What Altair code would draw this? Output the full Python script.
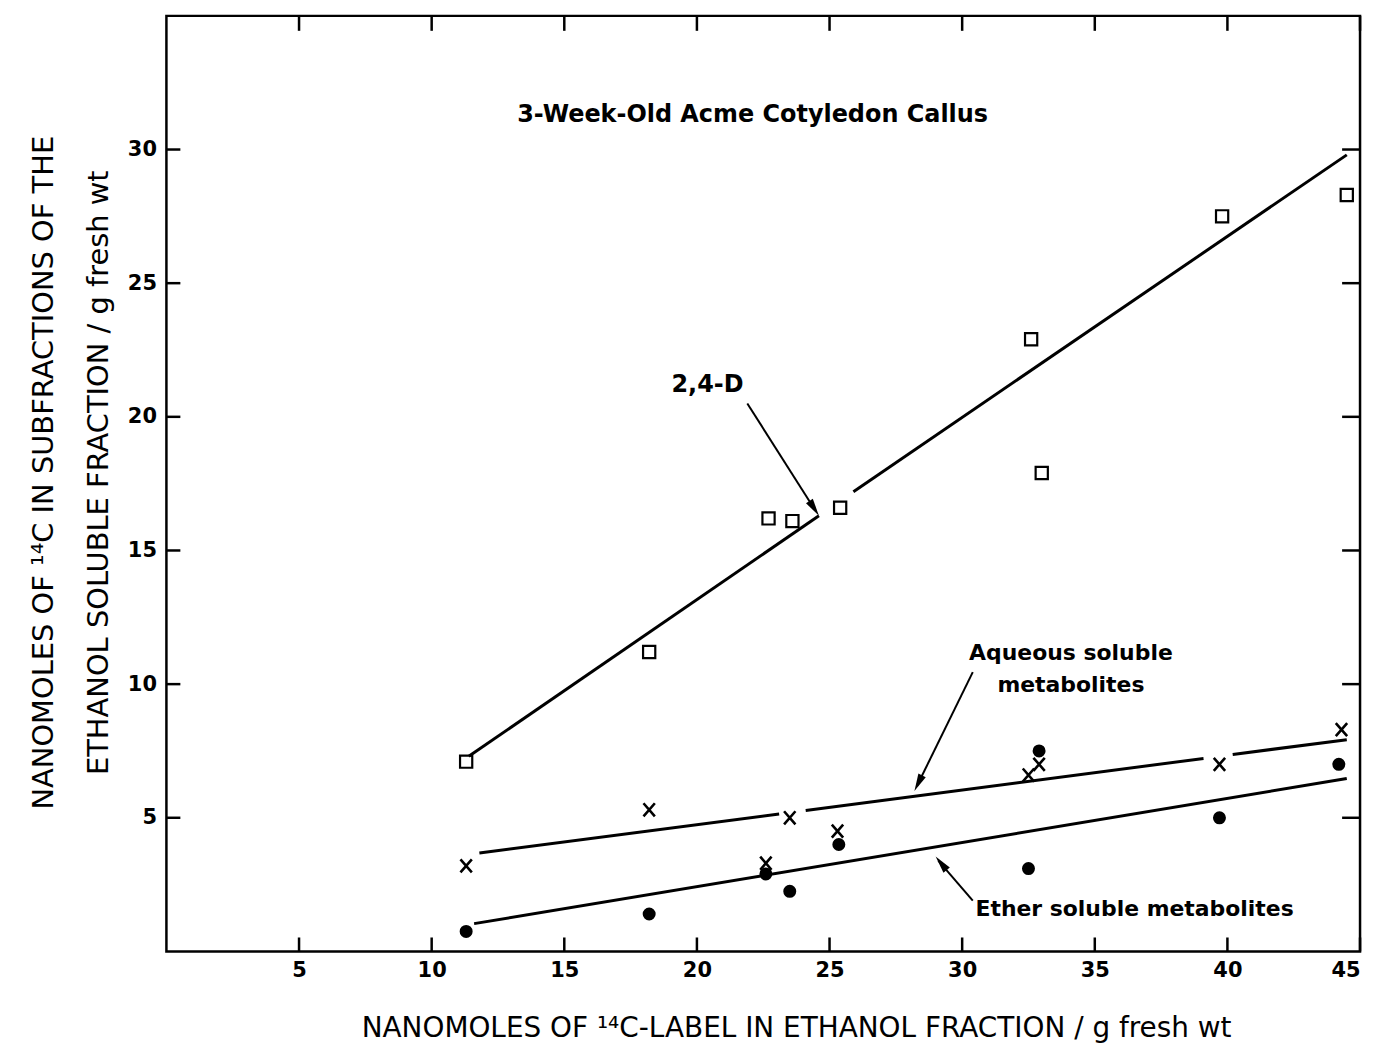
import altair as alt
import pandas as pd

# ---------------- data ----------------
d24_x = [11.3, 18.2, 22.7, 23.6, 25.4, 32.6, 33.0, 39.8, 44.5]
d24_y = [7.1, 11.2, 16.2, 16.1, 16.6, 22.9, 17.9, 27.5, 28.3]

aq_x = [11.3, 18.2, 22.6, 23.5, 25.3, 32.5, 32.9, 39.7, 44.3]
aq_y = [3.2, 5.3, 3.3, 5.0, 4.5, 6.6, 7.0, 7.0, 8.3]

et_x = [11.3, 18.2, 22.6, 23.5, 25.35, 32.5, 32.9, 39.7, 44.2]
et_y = [0.75, 1.4, 2.9, 2.25, 4.0, 3.1, 7.5, 5.0, 7.0]

# fitted lines (segments, with gaps as drawn in the figure)
line_seg = ["a", "a", "b", "b", "c", "c", "d", "d", "e", "e", "f", "f"]
line_x = [11.4, 24.6, 25.9, 44.5, 11.8, 23.1, 24.1, 39.1, 40.2, 44.5, 11.6, 44.5]
line_y = [7.3, 16.3, 17.2, 29.8, 3.68, 5.14, 5.27, 7.22, 7.37, 7.92, 1.04, 6.47]

x_ticks = [5, 10, 15, 20, 25, 30, 35, 40, 45]
y_ticks = [5, 10, 15, 20, 25, 30]

# annotations
ann_text = ["3-Week-Old Acme Cotyledon Callus", "2,4-D", "Aqueous soluble",
            "metabolites", "Ether soluble metabolites"]
ann_x = [22.1, 20.4, 34.1, 34.1, 36.5]
ann_y = [31.3, 21.2, 11.15, 9.95, 1.6]
ann_size = [24, 24, 22, 22, 22]

arrow_id = ["p", "p", "q", "q", "r", "r"]
arrow_x = [21.9, 24.4, 30.4, 28.3, 30.4, 29.1]
arrow_y = [20.5, 16.6, 10.45, 6.2, 1.9, 3.4]
head_x = [24.6, 28.2, 29.0]
head_y = [16.3, 6.0, 3.55]
head_angle = [147, 206, 321]

# ---------------- chart ----------------
W, H = 1198, 939
FONT = "DejaVu Sans"

xs = alt.Scale(domain=[0, 45], nice=False, zero=False)
ys = alt.Scale(domain=[0, 35], nice=False, zero=False)

x_title = "NANOMOLES OF ¹⁴C-LABEL IN ETHANOL FRACTION / g  fresh wt"
y_title = ["NANOMOLES OF ¹⁴C IN SUBFRACTIONS OF THE",
           "ETHANOL SOLUBLE FRACTION / g fresh wt"]

pts24 = pd.DataFrame({"x": d24_x, "y": d24_y})
ptsaq = pd.DataFrame({"x": aq_x, "y": aq_y})
ptset = pd.DataFrame({"x": et_x, "y": et_y})
lines = pd.DataFrame({"seg": line_seg, "x": line_x, "y": line_y})
xt = pd.DataFrame({"t": x_ticks})
yt = pd.DataFrame({"t": y_ticks})
ann = pd.DataFrame({"text": ann_text, "x": ann_x, "y": ann_y, "s": ann_size})
arr = pd.DataFrame({"id": arrow_id, "x": arrow_x, "y": arrow_y})
heads = pd.DataFrame({"x": head_x, "y": head_y, "a": head_angle})

base_x = alt.X("x:Q", scale=xs,
               axis=alt.Axis(values=x_ticks, ticks=False, domain=False, grid=False,
                             labelFontSize=21, labelFont=FONT, labelColor="black",
                             labelFontWeight="bold",
                             labelPadding=8, title=x_title, titleFont=FONT,
                             titleFontSize=28, titleFontWeight="normal",
                             titleColor="black", titlePadding=34, titleX=632))
base_y = alt.Y("y:Q", scale=ys,
               axis=alt.Axis(values=y_ticks, ticks=False, domain=False, grid=False,
                             labelFontSize=21, labelFont=FONT, labelColor="black",
                             labelFontWeight="bold",
                             labelPadding=10, title=y_title, titleFont=FONT,
                             titleFontSize=29, titleFontWeight="normal",
                             titleColor="black", titlePadding=14,
                             titleLineHeight=55, titleY=458))

squares = alt.Chart(pts24).mark_point(shape="square", size=150, filled=False,
                                      stroke="black", strokeWidth=2.2,
                                      opacity=1).encode(x=base_x, y=base_y)

xpath = "M-1,-1.15L1,1.15M1,-1.15L-1,1.15"
crosses = alt.Chart(ptsaq).mark_point(shape=xpath, size=130, filled=False,
                                      stroke="black", strokeWidth=2.6,
                                      opacity=1).encode(x="x:Q", y="y:Q")

dots = alt.Chart(ptset).mark_circle(size=170, color="black",
                                    opacity=1).encode(x="x:Q", y="y:Q")

fit = alt.Chart(lines).mark_line(color="black", strokeWidth=3).encode(
    x="x:Q", y="y:Q", detail="seg:N")

arrows = alt.Chart(arr).mark_line(color="black", strokeWidth=2).encode(
    x="x:Q", y="y:Q", detail="id:N")
headpath = "M0,0L0.42,1.8L-0.42,1.8Z"
arrowheads = alt.Chart(heads).mark_point(shape=headpath, size=380, filled=True,
                                         color="black", opacity=1).encode(
    x="x:Q", y="y:Q", angle=alt.Angle("a:Q", scale=None))

texts = alt.Chart(ann).mark_text(font=FONT, fontWeight="bold", color="black",
                                 align="center", baseline="middle").encode(
    x="x:Q", y="y:Q", text="text:N", size=alt.Size("s:Q", scale=None))

tick_b = alt.Chart(xt).mark_rule(color="black", strokeWidth=2.5).encode(
    x="t:Q", y=alt.value(H), y2=alt.value(H - 14))
tick_t = alt.Chart(xt).mark_rule(color="black", strokeWidth=2.5).encode(
    x="t:Q", y=alt.value(0), y2=alt.value(15))
tick_l = alt.Chart(yt).mark_rule(color="black", strokeWidth=2.5).encode(
    y="t:Q", x=alt.value(0), x2=alt.value(14))
tick_r = alt.Chart(yt).mark_rule(color="black", strokeWidth=2.5).encode(
    y="t:Q", x=alt.value(W), x2=alt.value(W - 18))

chart = alt.layer(squares, crosses, dots, fit, arrows, arrowheads, texts,
                  tick_b, tick_t, tick_l, tick_r).properties(
    width=W, height=H,
    background="white",
    autosize=alt.AutoSizeParams(type="none"),
    padding={"left": 159, "top": 6, "right": 10, "bottom": 90},
).configure_view(stroke="black", strokeWidth=2.5, strokeOpacity=1)

chart.save("out.html", embed_options={"renderer": "svg", "actions": False})
